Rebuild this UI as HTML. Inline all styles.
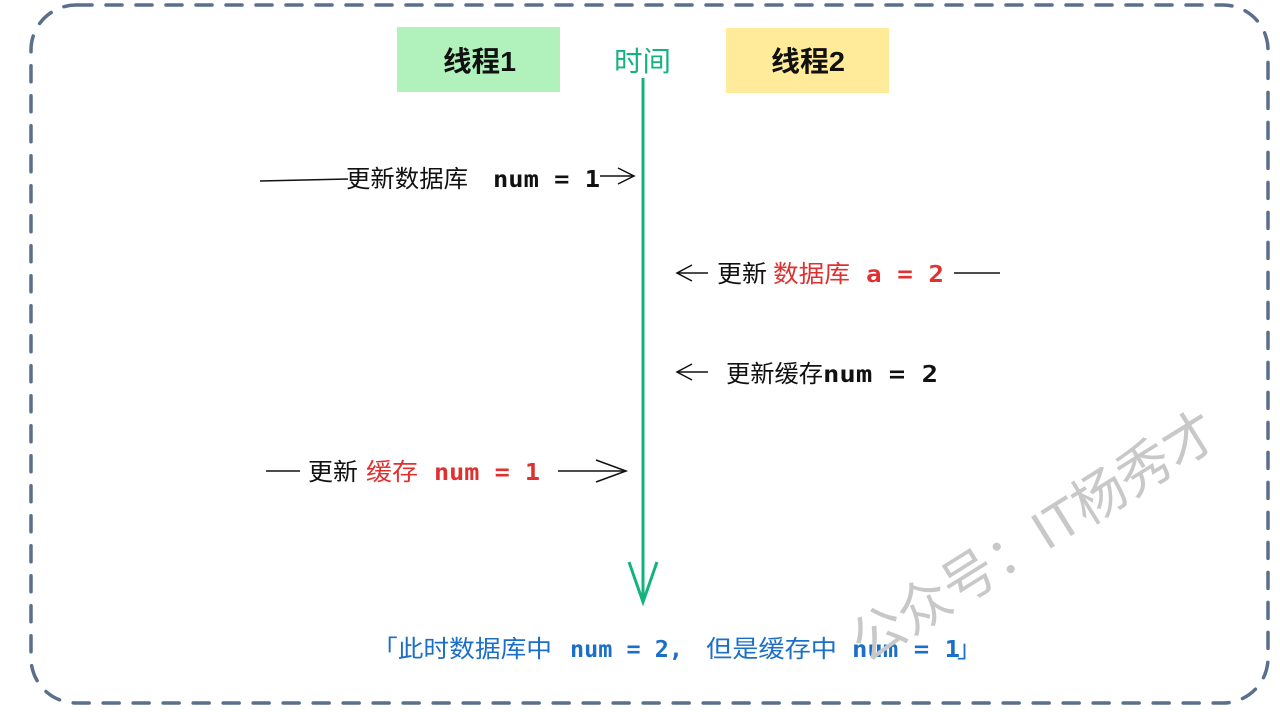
<!DOCTYPE html>
<html><head><meta charset="utf-8"><style>
html,body{margin:0;padding:0;background:#fff;}
svg{display:block;}
.cn{font-family:"Liberation Sans","Noto Sans CJK SC",sans-serif;}
.mono{font-family:"DejaVu Sans Mono","Liberation Mono","Noto Sans CJK SC",monospace;font-weight:bold;}
</style></head><body>
<svg width="1280" height="712" viewBox="0 0 1280 712" xmlns="http://www.w3.org/2000/svg">
<rect x="31" y="5" width="1237" height="698" rx="45" ry="45" fill="none" stroke="#5a6f8c" stroke-width="3.5" stroke-dasharray="16 14" stroke-linecap="round"/>
<rect x="397" y="27" width="163" height="65" fill="#b1f2bc"/>
<rect x="726" y="28" width="163" height="65" fill="#ffeb99"/>
<text x="443" y="71" textLength="73" lengthAdjust="spacingAndGlyphs" class="cn" font-size="28" font-weight="bold" fill="#111">线程1</text>
<text x="771" y="71" textLength="74" lengthAdjust="spacingAndGlyphs" class="cn" font-size="28" font-weight="bold" fill="#111">线程2</text>
<text x="614" y="71" textLength="57" lengthAdjust="spacingAndGlyphs" class="cn" font-size="28" fill="#14b37d">时间</text>
<line x1="643" y1="78" x2="643" y2="600" stroke="#14b37d" stroke-width="3"/>
<polyline points="629,562 643,602 657,562" fill="none" stroke="#14b37d" stroke-width="3"/>

<line x1="260" y1="181" x2="348" y2="179" stroke="#111" stroke-width="1.5"/>
<text x="346" y="187" textLength="122" lengthAdjust="spacingAndGlyphs" class="cn" font-size="24" fill="#111">更新数据库</text>
<text x="493" y="187" textLength="107" lengthAdjust="spacingAndGlyphs" class="mono" font-size="23" fill="#111">num = 1</text>
<line x1="600" y1="176" x2="634" y2="176" stroke="#111" stroke-width="1.5"/>
<polyline points="618,168 634,176 618,184" fill="none" stroke="#111" stroke-width="1.5"/>

<line x1="677" y1="273" x2="708" y2="273" stroke="#111" stroke-width="1.5"/>
<polyline points="692,265 677,273 692,281" fill="none" stroke="#111" stroke-width="1.5"/>
<text x="717" y="282" textLength="50" lengthAdjust="spacingAndGlyphs" class="cn" font-size="24" fill="#111">更新</text>
<text x="773" y="282" textLength="77" lengthAdjust="spacingAndGlyphs" class="cn" font-size="24" fill="#e03131">数据库</text>
<text x="866" y="282" textLength="78" lengthAdjust="spacingAndGlyphs" class="mono" font-size="23" fill="#e03131">a = 2</text>
<line x1="954" y1="273" x2="1000" y2="273" stroke="#111" stroke-width="1.5"/>

<line x1="677" y1="372" x2="708" y2="372" stroke="#111" stroke-width="1.5"/>
<polyline points="692,364 677,372 692,380" fill="none" stroke="#111" stroke-width="1.5"/>
<text x="726" y="382" textLength="97" lengthAdjust="spacingAndGlyphs" class="cn" font-size="24" fill="#111">更新缓存</text>
<text x="823" y="382" textLength="115" lengthAdjust="spacingAndGlyphs" class="mono" font-size="23" fill="#111">num = 2</text>

<line x1="266" y1="471" x2="300" y2="471" stroke="#111" stroke-width="1.5"/>
<text x="308" y="480" textLength="50" lengthAdjust="spacingAndGlyphs" class="cn" font-size="24" fill="#111">更新</text>
<text x="366" y="480" textLength="52" lengthAdjust="spacingAndGlyphs" class="cn" font-size="24" fill="#e03131">缓存</text>
<text x="434" y="480" textLength="106" lengthAdjust="spacingAndGlyphs" class="mono" font-size="23" fill="#e03131">num = 1</text>
<line x1="558" y1="471" x2="626" y2="471" stroke="#111" stroke-width="1.5"/>
<polyline points="596,460 626,471 596,482" fill="none" stroke="#111" stroke-width="1.5"/>

<text x="372" y="657" textLength="180" lengthAdjust="spacingAndGlyphs" class="cn" font-size="24" fill="#1c6fc7">「此时数据库中</text>
<text x="570" y="657" textLength="113" lengthAdjust="spacingAndGlyphs" class="mono" font-size="23" fill="#1c6fc7">num = 2,</text>
<text x="706" y="657" textLength="131" lengthAdjust="spacingAndGlyphs" class="cn" font-size="24" fill="#1c6fc7">但是缓存中</text>
<text x="852" y="657" textLength="108" lengthAdjust="spacingAndGlyphs" class="mono" font-size="23" fill="#1c6fc7">num = 1</text>
<text x="957" y="657" class="cn" font-size="24" fill="#1c6fc7">」</text>

<text x="0" y="0" transform="translate(866,664) rotate(-32)" textLength="420" lengthAdjust="spacingAndGlyphs" class="cn" font-size="54" fill="#c8c8c8">公众号：IT杨秀才</text>
</svg>
</body></html>
